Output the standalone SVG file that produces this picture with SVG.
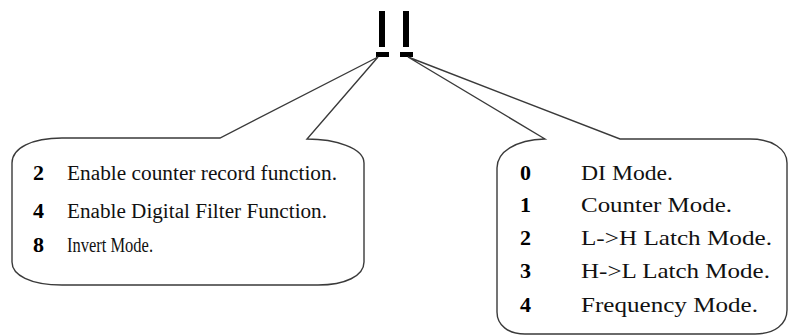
<svg xmlns="http://www.w3.org/2000/svg" width="788" height="336" viewBox="0 0 788 336">
<style>
.callout{fill:#fff;stroke:#3a3a3a;stroke-width:1.4;stroke-linejoin:miter}
.bar{fill:#000}
text{font-family:'Liberation Serif','DejaVu Serif',serif}
.num{font-weight:bold;font-size:22px;fill:#000}
.txt{font-size:20px;fill:#111}
.txtr{font-size:21px;fill:#111}
</style>
<rect width="788" height="336" fill="#fff"/>
<g id="bits">
<rect class="bar" x="379" y="11" width="6" height="36"/>
<rect class="bar" x="403" y="11" width="6" height="36"/>
<rect class="bar" x="376" y="52" width="13" height="5"/>
<rect class="bar" x="400" y="52" width="13" height="5"/>
</g>
<g id="connectors"></g>
<g id="callout-left">
<path class="callout" d="M 62,138 L 220,138 L 378,57 L 307,139 C 335,139 364,148 364,163 L 364,262 C 364,276 345,285 318,285 L 62,285 C 30,285 12,275 12,262 L 12,163 C 12,148 32,138 62,138 Z"/>
<text class="num" x="33" y="180">2</text>
<text class="txt" x="67" y="180" textLength="270" lengthAdjust="spacingAndGlyphs">Enable counter record function.</text>
<text class="num" x="33" y="218">4</text>
<text class="txt" x="67" y="218" textLength="260" lengthAdjust="spacingAndGlyphs">Enable Digital Filter Function.</text>
<text class="num" x="33" y="252">8</text>
<text class="txt" x="67" y="252" textLength="86" lengthAdjust="spacingAndGlyphs">Invert Mode.</text>
</g>
<g id="callout-right">
<path class="callout" d="M 545,139 L 408,57 L 620,139 L 750,139 C 772,139 787,149 787,163 L 787,310 C 787,324 775,334 755,334 L 525,334 C 508,334 497,325 497,312 L 497,168 C 497,152 515,140 545,139 Z"/>
<text class="num" x="520" y="180">0</text>
<text class="txtr" x="581" y="180" textLength="92" lengthAdjust="spacingAndGlyphs">DI Mode.</text>
<text class="num" x="520" y="212">1</text>
<text class="txtr" x="581" y="212" textLength="151" lengthAdjust="spacingAndGlyphs">Counter Mode.</text>
<text class="num" x="520" y="245">2</text>
<text class="txtr" x="581" y="245" textLength="191" lengthAdjust="spacingAndGlyphs">L-&gt;H Latch Mode.</text>
<text class="num" x="520" y="278">3</text>
<text class="txtr" x="581" y="278" textLength="189" lengthAdjust="spacingAndGlyphs">H-&gt;L Latch Mode.</text>
<text class="num" x="520" y="312">4</text>
<text class="txtr" x="581" y="312" textLength="177" lengthAdjust="spacingAndGlyphs">Frequency Mode.</text>
</g>
</svg>
